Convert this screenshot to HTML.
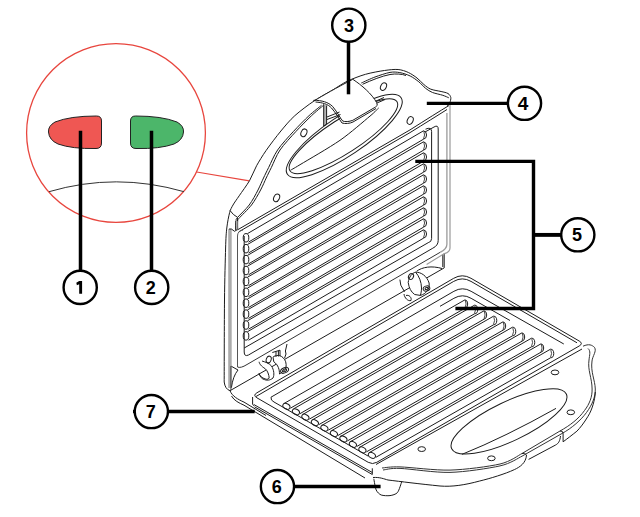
<!DOCTYPE html>
<html><head><meta charset="utf-8"><style>
html,body{margin:0;padding:0;background:#fff;}
svg{display:block;}
</style></head><body>
<svg width="640" height="517" viewBox="0 0 640 517">
<circle cx="116" cy="133" r="89.4" stroke="#e8463e" stroke-width="1.3" fill="none"/>
<line x1="196.6" y1="172" x2="249.4" y2="180.8" stroke="#e8463e" stroke-width="1.2"/>
<path d="M49,191.7 Q116,172 184,191.7" stroke="#333" stroke-width="1" fill="none" />
<path d="M101.5,121 Q101.5,116 96.5,116 Q70,116 55,122 Q48,126 48.5,132 Q49,140 58,144 Q72,149 96,148.5 Q101.5,148.5 101.5,143 Z" stroke="#222" stroke-width="1" fill="#ef5753" />
<path d="M130.5,121 Q130.5,116 135.5,116 Q162,116 177,122 Q184,126 183.5,132 Q183,140 174,144 Q160,149 136,148.5 Q130.5,148.5 130.5,143 Z" stroke="#222" stroke-width="1" fill="#4cb66a" />
<path d="M224.2,382 C224.2,369.7 224.3,320.1 224.5,300 C224.7,279.9 225.3,258.8 225.6,248 C225.9,237.2 226.2,233.3 226.8,228 C227.4,222.7 228.7,216.1 229.6,212.7 C230.5,209.2 231.6,207.5 233,205 C234.4,202.5 236.7,199.5 239.2,195.8 C241.7,192.1 247,185 249.6,180.5 C252.2,176 254.1,170.2 256.6,165.7 C259.1,161.2 262.5,155.7 266.1,150.5 C269.7,145.3 276.6,136.2 280.9,131 C285.2,125.8 289.8,120.2 294.8,115.7 C299.8,111.2 308.2,104.9 314,101 C319.8,97.1 328.2,92.7 333.2,89.7 C338.2,86.7 342.3,83.6 347.1,81.3 C351.9,79 359.9,75.9 365.5,74.3 C371.1,72.7 379.5,71.2 384.4,70.5 C389.3,69.8 394.5,69.2 398.1,69.5 C401.7,69.8 405.6,71.2 408.4,72.5 C411.2,73.8 414.7,76.2 417,78 C419.3,79.8 421.8,82.8 423.9,84.5 C426,86.2 428.2,88.2 430.8,89.2 C433.4,90.2 438.5,90.9 441.1,91.5 C443.7,92.1 446.5,92.6 448,93.5 C449.5,94.4 450.5,96.1 450.8,97.5 C451.1,98.9 450.3,101.7 449.7,103 C449.1,104.3 447.4,105.5 447,106" stroke="#1c1c1c" stroke-width="1.0" fill="none" />
<path d="M235.7,229.8 C235.8,228.4 235.8,222.4 236.1,220.5 C236.4,218.6 235.6,219.7 237.6,217.4 C239.6,215.1 246.1,209.1 249.2,205 C252.3,200.9 255.9,194.1 258,190 C260.1,185.9 261.9,181.4 263.5,178 C265.1,174.6 266.6,171.6 268.7,167.4 C270.8,163.2 273.9,155.4 277.6,150 C281.3,144.6 288.8,136.5 293.5,131.4 C298.2,126.3 304.8,119.6 309,115.7 C313.2,111.8 319.6,106.9 321.5,105.3" stroke="#1c1c1c" stroke-width="1.0" fill="none" />
<path d="M237.6,229 C237.6,227.8 237.4,222.6 237.6,221 C237.8,219.4 236.7,220.9 238.8,218.5 C240.9,216.1 248.2,209.3 251.5,205 C254.8,200.7 258.4,194.1 260.6,190 C262.8,185.9 264.6,181.4 266.2,178 C267.8,174.6 269.3,171.6 271.4,167.4 C273.5,163.2 276.3,155.4 280,150 C283.7,144.6 291.3,136.5 296,131.4 C300.7,126.3 307.4,119.6 311.5,115.7 C315.6,111.8 321.7,106.9 323.5,105.3" stroke="#1c1c1c" stroke-width="1.0" fill="none" />
<path d="M361.3,83 C363.4,82.1 370.7,78.6 375,77 C379.3,75.4 386.3,73.1 390,72.4 C393.7,71.7 396.8,72.1 399.8,72.6 C402.8,73.1 407.3,74.6 410.2,76 C413.1,77.4 416.5,80 418.8,81.8 C421.1,83.6 423.5,86.7 425.6,88.3 C427.7,89.9 429.9,91.5 432.5,92.5 C435.1,93.5 440.4,94.5 442.8,95.3 C445.2,96.1 447.9,97.4 448.8,97.8" stroke="#1c1c1c" stroke-width="1.0" fill="none" />
<path d="M229.9,210.4 Q233,215 237.6,217.4" stroke="#1c1c1c" stroke-width="1.0" fill="none" />
<path d="M229.95,229 V388" stroke="#ababab" stroke-width="3.5" fill="none" />
<path d="M229.1,229 L231.4,229 L234.5,231.3 L237.6,229.5" stroke="#1c1c1c" stroke-width="1.0" fill="none" />
<path d="M235.9,221 V230 M237.6,218 V229" stroke="#1c1c1c" stroke-width="1.0" fill="none" />
<path d="M236.8,221 V229" stroke="#aaa" stroke-width="1.6" fill="none" />
<path d="M231.4,366.3 L238,370 Q233,376 231.4,387.6" stroke="#1c1c1c" stroke-width="1.0" fill="none" />
<path d="M230.9,366 V390" stroke="#444" stroke-width="1.0" fill="none" />
<path d="M224.2,382 Q225,389 230,390.7" stroke="#1c1c1c" stroke-width="1.0" fill="none" />
<path d="M230,390.7 L444.2,267.9" stroke="#1c1c1c" stroke-width="1.0" fill="none" />
<path d="M444.2,253.6 V267.9 M442.8,254.5 V267" stroke="#1c1c1c" stroke-width="1.0" fill="none" />
<path d="M237.6,229.8 L410,129.9 Q435,114 449,105.5" stroke="#1c1c1c" stroke-width="1.0" fill="none" />
<path d="M238.8,231.8 L410,132.6 Q432,119 447,109.5" stroke="#1c1c1c" stroke-width="1.0" fill="none" />
<path d="M237.5,367 V236 Q237.5,231 243,230" stroke="#555" stroke-width="1.0" fill="none" />
<path d="M440.5,252.1 L247,364.5 Q240.7,368.5 237.5,367" stroke="#333" stroke-width="1.0" fill="none" />
<path d="M446.9,113 V244.3 Q446.9,249 440.5,252.1" stroke="#9a9a9a" stroke-width="1.3" fill="none" />
<path d="M450,104 V248 Q450,252 444.4,253.6 L426.6,264.5" stroke="#9a9a9a" stroke-width="1.2" fill="none" />
<path d="M425,132 L434,127 Q438.2,124.5 438.2,129 V240.5 Q438.2,245.5 432.8,248.2 L248.5,355 Q244.2,357 244.2,352 V236" stroke="#1c1c1c" stroke-width="1.0" fill="none" />
<path d="M425.5,129.2 Q431.6,126.5 431.6,131.5 V238.5 Q431.6,242 428.2,242.7 L244.2,348" stroke="#1c1c1c" stroke-width="1.0" fill="none" />
<ellipse cx="344.25" cy="136.05" rx="68.5" ry="19.75" transform="rotate(-33.9 344.25 136.05)" stroke="#1c1c1c" stroke-width="1.0" fill="none"/>
<ellipse cx="343.4" cy="136.2" rx="63.7" ry="16.9" transform="rotate(-32.9 343.4 136.2)" stroke="#1c1c1c" stroke-width="1.0" fill="none"/>
<path d="M290.5,170.2 C291.9,169.4 292.6,169.2 300,164.7 C307.4,160.2 329.5,147.6 340,140.3 C350.5,133 364.2,120.9 370,116.1 C375.8,111.3 377.2,109.2 378.5,108" stroke="#1c1c1c" stroke-width="1.0" fill="none" />
<path d="M313.8,101 C323,95.5 336,88 352.8,79.3 C361.6,85.1 372,94 376.7,102.7 L377.3,105.3 L375.4,107.1 L352.8,120.3 C349,121.8 345,122 342.7,121 C340,118 338,113 332.7,106.5 C328,102 322,100.5 313.8,100.2 Z" stroke="#1c1c1c" stroke-width="1.0" fill="#fff" />
<path d="M315.5,102 C322,102.5 328,104 331.5,108 C336,113 339,119 342,123 C345,124 350,123.5 353,122 L376,108.5" stroke="#1c1c1c" stroke-width="1.0" fill="none" />
<path d="M323.7,104.2 V126 L326.6,124 V105.5" stroke="#1c1c1c" stroke-width="1.0" fill="#b5b5b5" />
<path d="M327,117 L339.5,112 M327,119.5 L340.5,114.5" stroke="#1c1c1c" stroke-width="1.0" fill="none" />
<path d="M362.5,84.3 C372,80 382,76 390,74.5 C396,73.5 402,74 406,75.5" stroke="#1c1c1c" stroke-width="1.0" fill="none" />
<path d="M376,101 L384,97.5 M377,103 L385,99.5" stroke="#1c1c1c" stroke-width="1.0" fill="none" />
<ellipse cx="383.5" cy="86.6" rx="2.8" ry="4" transform="rotate(25 383.5 86.6)" stroke="#1c1c1c" stroke-width="1.0" fill="none"/>
<ellipse cx="410.2" cy="120.5" rx="2.8" ry="4" transform="rotate(25 410.2 120.5)" stroke="#1c1c1c" stroke-width="1.0" fill="none"/>
<ellipse cx="276.6" cy="197.9" rx="2.8" ry="4" transform="rotate(25 276.6 197.9)" stroke="#1c1c1c" stroke-width="1.0" fill="none"/>
<ellipse cx="303.9" cy="132.8" rx="2.8" ry="4" transform="rotate(25 303.9 132.8)" stroke="#1c1c1c" stroke-width="1.0" fill="none"/>
<path d="M247.5,233.6 L423.5,130.8 A3.6,4.25 0 0 1 423.5,139.2 L248.5,242.1" stroke="#1c1c1c" stroke-width="1.0" fill="none" />
<path d="M423.8,131.2 Q425.5,135 423.5,138.9" stroke="#1c1c1c" stroke-width="0.8" fill="none" />
<ellipse cx="246" cy="237.8" rx="2.8" ry="4.25" transform="rotate(0 246 237.8)" stroke="#1c1c1c" stroke-width="1.0" fill="none"/>
<path d="M247.5,244.5 L423.5,141.8 A3.6,4.25 0 0 1 423.5,150.2 L248.5,253" stroke="#1c1c1c" stroke-width="1.0" fill="none" />
<path d="M423.8,142.2 Q425.5,146 423.5,149.9" stroke="#1c1c1c" stroke-width="0.8" fill="none" />
<ellipse cx="246" cy="248.70000000000002" rx="2.8" ry="4.25" transform="rotate(0 246 248.70000000000002)" stroke="#1c1c1c" stroke-width="1.0" fill="none"/>
<path d="M247.5,255.4 L423.5,152.8 A3.6,4.25 0 0 1 423.5,161.2 L248.5,263.9" stroke="#1c1c1c" stroke-width="1.0" fill="none" />
<path d="M423.8,153.2 Q425.5,157 423.5,160.9" stroke="#1c1c1c" stroke-width="0.8" fill="none" />
<ellipse cx="246" cy="259.6" rx="2.8" ry="4.25" transform="rotate(0 246 259.6)" stroke="#1c1c1c" stroke-width="1.0" fill="none"/>
<path d="M247.5,266.2 L423.5,163.8 A3.6,4.25 0 0 1 423.5,172.2 L248.5,274.8" stroke="#1c1c1c" stroke-width="1.0" fill="none" />
<path d="M423.8,164.2 Q425.5,168 423.5,171.9" stroke="#1c1c1c" stroke-width="0.8" fill="none" />
<ellipse cx="246" cy="270.5" rx="2.8" ry="4.25" transform="rotate(0 246 270.5)" stroke="#1c1c1c" stroke-width="1.0" fill="none"/>
<path d="M247.5,277.2 L423.5,174.8 A3.6,4.25 0 0 1 423.5,183.2 L248.5,285.7" stroke="#1c1c1c" stroke-width="1.0" fill="none" />
<path d="M423.8,175.2 Q425.5,179 423.5,182.9" stroke="#1c1c1c" stroke-width="0.8" fill="none" />
<ellipse cx="246" cy="281.40000000000003" rx="2.8" ry="4.25" transform="rotate(0 246 281.40000000000003)" stroke="#1c1c1c" stroke-width="1.0" fill="none"/>
<path d="M247.5,288.1 L423.5,185.8 A3.6,4.25 0 0 1 423.5,194.2 L248.5,296.6" stroke="#1c1c1c" stroke-width="1.0" fill="none" />
<path d="M423.8,186.2 Q425.5,190 423.5,193.9" stroke="#1c1c1c" stroke-width="0.8" fill="none" />
<ellipse cx="246" cy="292.3" rx="2.8" ry="4.25" transform="rotate(0 246 292.3)" stroke="#1c1c1c" stroke-width="1.0" fill="none"/>
<path d="M247.5,299 L423.5,196.8 A3.6,4.25 0 0 1 423.5,205.2 L248.5,307.5" stroke="#1c1c1c" stroke-width="1.0" fill="none" />
<path d="M423.8,197.2 Q425.5,201 423.5,204.9" stroke="#1c1c1c" stroke-width="0.8" fill="none" />
<ellipse cx="246" cy="303.20000000000005" rx="2.8" ry="4.25" transform="rotate(0 246 303.20000000000005)" stroke="#1c1c1c" stroke-width="1.0" fill="none"/>
<path d="M247.5,309.9 L423.5,207.8 A3.6,4.25 0 0 1 423.5,216.2 L248.5,318.4" stroke="#1c1c1c" stroke-width="1.0" fill="none" />
<path d="M423.8,208.2 Q425.5,212 423.5,215.9" stroke="#1c1c1c" stroke-width="0.8" fill="none" />
<ellipse cx="246" cy="314.1" rx="2.8" ry="4.25" transform="rotate(0 246 314.1)" stroke="#1c1c1c" stroke-width="1.0" fill="none"/>
<path d="M247.5,320.8 L423.5,218.8 A3.6,4.25 0 0 1 423.5,227.2 L248.5,329.2" stroke="#1c1c1c" stroke-width="1.0" fill="none" />
<path d="M423.8,219.2 Q425.5,223 423.5,226.9" stroke="#1c1c1c" stroke-width="0.8" fill="none" />
<ellipse cx="246" cy="325.0" rx="2.8" ry="4.25" transform="rotate(0 246 325.0)" stroke="#1c1c1c" stroke-width="1.0" fill="none"/>
<path d="M247.5,331.7 L423.5,229.8 A3.6,4.25 0 0 1 423.5,238.2 L248.5,340.2" stroke="#1c1c1c" stroke-width="1.0" fill="none" />
<path d="M423.8,230.2 Q425.5,234 423.5,237.9" stroke="#1c1c1c" stroke-width="0.8" fill="none" />
<ellipse cx="246" cy="335.90000000000003" rx="2.8" ry="4.25" transform="rotate(0 246 335.90000000000003)" stroke="#1c1c1c" stroke-width="1.0" fill="none"/>
<path d="M273,357.2 C275,355 281,354 284.6,359.5 C286.5,362 286.5,367 285.4,369.5 L279.5,374 C279.5,370 278.5,365 273.8,361.8 Z" stroke="#1c1c1c" stroke-width="1.0" fill="#fff" />
<path d="M259.1,361.8 C259.5,364 261,366 265.3,368.8 C267.5,370.5 269,375 269.2,378 C268,380 266,379.5 263,378 C261,377 259.5,375 259.1,373.4 C260,377 262,379 264.5,379.6 C266.5,380.5 270,380.6 273,378 C274.5,375 274,370 271.5,366 C269,363 265,362 262,361" stroke="#1c1c1c" stroke-width="1.0" fill="#fff" />
<ellipse cx="268.7" cy="359.5" rx="2.4" ry="3.4" transform="rotate(20 268.7 359.5)" stroke="#1c1c1c" stroke-width="1.0" fill="none"/>
<ellipse cx="284.6" cy="370.3" rx="4.2" ry="2.6" transform="rotate(-25 284.6 370.3)" stroke="#1c1c1c" stroke-width="1.0" fill="none"/>
<ellipse cx="284.6" cy="370.3" rx="2.2" ry="1.3" transform="rotate(-25 284.6 370.3)" stroke="#1c1c1c" stroke-width="1.0" fill="none"/>
<path d="M272.3,352.5 L280,350.2 V356 M278.4,350.8 V356.5 M276,351.5 V357" stroke="#1c1c1c" stroke-width="1.0" fill="none" />
<path d="M287,344 L285.4,351 L286,354 L284.6,358" stroke="#1c1c1c" stroke-width="1.0" fill="none" />
<path d="M408.2,282.4 C409,277 412,273 415.6,272.2 C421,272 427,276 429.1,283 C430,289 426,294 420.3,295.4 L414.7,294.5 C411,292 409,288 408.2,282.4 Z" stroke="#1c1c1c" stroke-width="1.0" fill="#fff" />
<path d="M415.6,272.2 C419,276 421.5,282 421.5,288 C421.5,291 421,293.5 420.3,295.4" stroke="#1c1c1c" stroke-width="1.0" fill="none" />
<path d="M416.6,271.3 C422,267 432,265.5 442,268.5" stroke="#1c1c1c" stroke-width="1.0" fill="none" />
<ellipse cx="411" cy="276.5" rx="2.4" ry="3" transform="rotate(30 411 276.5)" stroke="#1c1c1c" stroke-width="1.0" fill="none"/>
<ellipse cx="426.5" cy="288.5" rx="3.4" ry="2.5" transform="rotate(-20 426.5 288.5)" stroke="#1c1c1c" stroke-width="1.0" fill="none"/>
<ellipse cx="426.5" cy="288.5" rx="1.5" ry="1.1" transform="rotate(-20 426.5 288.5)" stroke="#1c1c1c" stroke-width="1.0" fill="none"/>
<path d="M404,294 C404.5,298 408,301.5 411,300.5 C412,297.5 409,294.5 406,295.5" stroke="#1c1c1c" stroke-width="1.0" fill="none" />
<path d="M399.9,279.6 L400.8,285.2 L404.5,291.7" stroke="#1c1c1c" stroke-width="1.0" fill="none" />
<path d="M230,390.7 C232,396 238,399.5 244,402.1 L266,415.5" stroke="#1c1c1c" stroke-width="1.0" fill="none" />
<path d="M231.5,396 C234,400.5 239,403 244,405.2 L365,478" stroke="#1c1c1c" stroke-width="1.0" fill="none" />
<path d="M453.7,278.3 Q462.3,273.3 471,278.3 L579.2,341 Q583.5,343.5 579.2,346 L376.8,462.3 Q372.5,464.8 368.2,462.3 L256.9,397.8 Q252.6,395.3 256.9,392.8 Z" stroke="#1c1c1c" stroke-width="1.0" fill="none" />
<path d="M256,396.5 L453.7,281.4 Q462.3,276.4 471,281.4 L577,342.8" stroke="#1c1c1c" stroke-width="1.0" fill="none" />
<path d="M376,464.5 L582,349" stroke="#1c1c1c" stroke-width="1.0" fill="none" />
<path d="M252.6,397 V404.2 Q252.8,405 254,405.6" stroke="#1c1c1c" stroke-width="1.0" fill="none" />
<path d="M254,404.6 L372.3,472.5 M254.5,406.8 L372.3,474.5 M372.3,468.3 V474.5" stroke="#1c1c1c" stroke-width="1.0" fill="none" />
<path d="M271,397.2 Q270.5,400.5 274,402 L368,456" stroke="#1c1c1c" stroke-width="1.0" fill="none" />
<path d="M271,397.2 L453.9,291.3 Q462.5,286.3 471.1,291.3 L563.8,344" stroke="#1c1c1c" stroke-width="1.0" fill="none" />
<path d="M440,306.3 L453.9,298.3 Q462.5,293.3 471.1,298.3 L510,320.5" stroke="#1c1c1c" stroke-width="1.0" fill="none" />
<path d="M382,468 C384.7,467.8 389.8,466.6 400,466.9 C410.2,467.2 435,470.5 450,470.1 C465,469.7 489.2,466.5 500,464 C510.8,461.5 518.7,455.1 522,453.5 L560,431 C570,425.5 579,418.5 584.5,410.5 C589.5,404 592.3,397 592.1,389 C592,378 587.5,370 589,360 C589.5,355 591,351 588,348.5" stroke="#333" stroke-width="1.0" fill="none" />
<path d="M383,470 C385.6,469.8 389.9,468 400,468.4 C410.1,468.8 435,472.8 450,472.4 C465,472 489.2,468.3 500,465.9 C510.8,463.5 518.7,457.7 522,456.2 L562,433.5 C572,428 581,420 586.5,412.5 C592,405 595.5,397 595.3,389 C595,380 590.5,372 592,361 C592.5,356 597,351 594.5,347.4 C592,345 589,343.5 583,346.2" stroke="#333" stroke-width="1.0" fill="none" />
<path d="M373,477.5 C380,477 384,479 388,480 C400,481.5 420,484 440,486 C452,487 465,485 479.7,481 C490,478.5 505,474 514.4,469.6 C520,467 526,463 526.5,455" stroke="#1c1c1c" stroke-width="1.0" fill="none" />
<path d="M528.6,459.4 L555.6,445 C558.5,443.5 560,441 560.5,436" stroke="#1c1c1c" stroke-width="1.0" fill="none" />
<path d="M563.1,441.8 C567,439 572,435 576.9,431.2 C580,428 584,423 588,416.3 C592,410 595,400 595.3,392" stroke="#1c1c1c" stroke-width="1.0" fill="none" />
<path d="M522,453.5 Q525,452.5 526.5,455 M560,431 Q563,430.5 563.1,433.5 V441.8" stroke="#1c1c1c" stroke-width="1.0" fill="none" />
<ellipse cx="509" cy="421.4" rx="63.5" ry="19.6" transform="rotate(-25.5 509 421.4)" stroke="#1c1c1c" stroke-width="1.0" fill="none"/>
<path d="M461.9,454.4 Q505,437 556,408.4" stroke="#1c1c1c" stroke-width="1.0" fill="none" />
<ellipse cx="555" cy="372.4" rx="3.8" ry="2.4" transform="rotate(0 555 372.4)" stroke="#1c1c1c" stroke-width="1.0" fill="none"/>
<ellipse cx="570.8" cy="412.3" rx="3.8" ry="2.4" transform="rotate(0 570.8 412.3)" stroke="#1c1c1c" stroke-width="1.0" fill="none"/>
<ellipse cx="491.4" cy="458.3" rx="3.8" ry="2.4" transform="rotate(0 491.4 458.3)" stroke="#1c1c1c" stroke-width="1.0" fill="none"/>
<ellipse cx="421.7" cy="449.1" rx="3.8" ry="2.4" transform="rotate(0 421.7 449.1)" stroke="#1c1c1c" stroke-width="1.0" fill="none"/>
<path d="M373.8,478.8 C374.1,480.2 375.2,487.8 376.2,490 C377.2,492.2 379.4,494.3 381.2,495 C383.1,495.7 387.8,495.9 390,495.6 C392.2,495.3 395.9,494.4 397.5,492.5 C399.1,490.6 401.3,482.8 401.9,481.2" stroke="#1c1c1c" stroke-width="1.0" fill="none" />
<path d="M284.2,403.4 L465,299.8 A3.2,4.25 0 0 1 465,308.2 L290.4,408.2" stroke="#1c1c1c" stroke-width="1.0" fill="none" />
<path d="M465.3,300.2 Q467,304 465,307.9" stroke="#1c1c1c" stroke-width="0.8" fill="none" />
<ellipse cx="286.4" cy="406.3" rx="3.8" ry="2.6" transform="rotate(30 286.4 406.3)" stroke="#1c1c1c" stroke-width="1.0" fill="none"/>
<path d="M293.7,408.8 L474.5,305.2 A3.2,4.25 0 0 1 474.5,313.8 L299.9,413.7" stroke="#1c1c1c" stroke-width="1.0" fill="none" />
<path d="M474.8,305.8 Q476.5,309.5 474.5,313.4" stroke="#1c1c1c" stroke-width="0.8" fill="none" />
<ellipse cx="295.9" cy="411.8" rx="3.8" ry="2.6" transform="rotate(30 295.9 411.8)" stroke="#1c1c1c" stroke-width="1.0" fill="none"/>
<path d="M303.2,414.2 L484,310.8 A3.2,4.25 0 0 1 484,319.2 L309.4,419.1" stroke="#1c1c1c" stroke-width="1.0" fill="none" />
<path d="M484.3,311.2 Q486,315 484,318.9" stroke="#1c1c1c" stroke-width="0.8" fill="none" />
<ellipse cx="305.4" cy="417.2" rx="3.8" ry="2.6" transform="rotate(30 305.4 417.2)" stroke="#1c1c1c" stroke-width="1.0" fill="none"/>
<path d="M312.7,419.7 L493.5,316.2 A3.2,4.25 0 0 1 493.5,324.8 L318.9,424.6" stroke="#1c1c1c" stroke-width="1.0" fill="none" />
<path d="M493.8,316.8 Q495.5,320.5 493.5,324.4" stroke="#1c1c1c" stroke-width="0.8" fill="none" />
<ellipse cx="314.9" cy="422.7" rx="3.8" ry="2.6" transform="rotate(30 314.9 422.7)" stroke="#1c1c1c" stroke-width="1.0" fill="none"/>
<path d="M322.2,425.2 L503,321.8 A3.2,4.25 0 0 1 503,330.2 L328.4,430.1" stroke="#1c1c1c" stroke-width="1.0" fill="none" />
<path d="M503.3,322.2 Q505,326 503,329.9" stroke="#1c1c1c" stroke-width="0.8" fill="none" />
<ellipse cx="324.4" cy="428.1" rx="3.8" ry="2.6" transform="rotate(30 324.4 428.1)" stroke="#1c1c1c" stroke-width="1.0" fill="none"/>
<path d="M331.7,430.6 L512.5,327.2 A3.2,4.25 0 0 1 512.5,335.8 L337.9,435.5" stroke="#1c1c1c" stroke-width="1.0" fill="none" />
<path d="M512.8,327.8 Q514.5,331.5 512.5,335.4" stroke="#1c1c1c" stroke-width="0.8" fill="none" />
<ellipse cx="333.9" cy="433.6" rx="3.8" ry="2.6" transform="rotate(30 333.9 433.6)" stroke="#1c1c1c" stroke-width="1.0" fill="none"/>
<path d="M341.2,436.1 L522,332.8 A3.2,4.25 0 0 1 522,341.2 L347.4,440.9" stroke="#1c1c1c" stroke-width="1.0" fill="none" />
<path d="M522.3,333.2 Q524,337 522,340.9" stroke="#1c1c1c" stroke-width="0.8" fill="none" />
<ellipse cx="343.4" cy="439" rx="3.8" ry="2.6" transform="rotate(30 343.4 439)" stroke="#1c1c1c" stroke-width="1.0" fill="none"/>
<path d="M350.7,441.5 L531.5,338.2 A3.2,4.25 0 0 1 531.5,346.8 L356.9,446.4" stroke="#1c1c1c" stroke-width="1.0" fill="none" />
<path d="M531.8,338.8 Q533.5,342.5 531.5,346.4" stroke="#1c1c1c" stroke-width="0.8" fill="none" />
<ellipse cx="352.9" cy="444.4" rx="3.8" ry="2.6" transform="rotate(30 352.9 444.4)" stroke="#1c1c1c" stroke-width="1.0" fill="none"/>
<path d="M360.2,447 L541,343.8 A3.2,4.25 0 0 1 541,352.2 L366.4,451.9" stroke="#1c1c1c" stroke-width="1.0" fill="none" />
<path d="M541.3,344.2 Q543,348 541,351.9" stroke="#1c1c1c" stroke-width="0.8" fill="none" />
<ellipse cx="362.4" cy="449.9" rx="3.8" ry="2.6" transform="rotate(30 362.4 449.9)" stroke="#1c1c1c" stroke-width="1.0" fill="none"/>
<path d="M369.7,452.4 L550.5,349.2 A3.2,4.25 0 0 1 550.5,357.8 L375.9,457.3" stroke="#1c1c1c" stroke-width="1.0" fill="none" />
<path d="M550.8,349.8 Q552.5,353.5 550.5,357.4" stroke="#1c1c1c" stroke-width="0.8" fill="none" />
<ellipse cx="371.9" cy="455.4" rx="3.8" ry="2.6" transform="rotate(30 371.9 455.4)" stroke="#1c1c1c" stroke-width="1.0" fill="none"/>
<line x1="80.5" y1="130.7" x2="80.5" y2="271" stroke="#000" stroke-width="3.5"/>
<line x1="151.5" y1="130.7" x2="151.5" y2="271" stroke="#000" stroke-width="3.5"/>
<line x1="348.5" y1="94.3" x2="348.5" y2="42" stroke="#000" stroke-width="3.5"/>
<line x1="426.8" y1="103.4" x2="508" y2="103.4" stroke="#000" stroke-width="3.4"/>
<path d="M415.3,161.4 H533.5 V308.45 H455.4" stroke="#000" stroke-width="3.4" fill="none" />
<line x1="533.5" y1="234.9" x2="561" y2="234.9" stroke="#000" stroke-width="3.9"/>
<line x1="254.7" y1="411.45" x2="133" y2="411.45" stroke="#000" stroke-width="3.5"/>
<line x1="380.6" y1="486.45" x2="294" y2="486.45" stroke="#000" stroke-width="3.5"/>
<circle cx="80.2" cy="287.4" r="16.6" stroke="#000" stroke-width="2.4" fill="#fff"/>
<path d="M76.3,282.79999999999995 L79.2,281.0 H82.10000000000001 V293.79999999999995 H79.2 V284.2 L76.9,285.2 Z" fill="#000"/>
<circle cx="151.7" cy="287.4" r="16.6" stroke="#000" stroke-width="2.4" fill="#fff"/>
<text x="150.85" y="293.9" text-anchor="middle" font-family="Liberation Sans" font-weight="bold" font-size="18" fill="#000">2</text>
<circle cx="348.8" cy="25.2" r="16.6" stroke="#000" stroke-width="2.4" fill="#fff"/>
<text x="349.0" y="31.7" text-anchor="middle" font-family="Liberation Sans" font-weight="bold" font-size="18" fill="#000">3</text>
<circle cx="524.5" cy="103.3" r="16.6" stroke="#000" stroke-width="2.4" fill="#fff"/>
<text transform="translate(523.15,109.8) scale(1.06,1)" x="0" y="0" text-anchor="middle" font-family="Liberation Sans" font-weight="bold" font-size="18" fill="#000">4</text>
<circle cx="577.8" cy="234.8" r="16.6" stroke="#000" stroke-width="2.4" fill="#fff"/>
<text x="576.9" y="241.3" text-anchor="middle" font-family="Liberation Sans" font-weight="bold" font-size="18" fill="#000">5</text>
<circle cx="277.45" cy="486.55" r="16.6" stroke="#000" stroke-width="2.4" fill="#fff"/>
<text x="276.7" y="493.05" text-anchor="middle" font-family="Liberation Sans" font-weight="bold" font-size="18" fill="#000">6</text>
<circle cx="151.35" cy="411.55" r="16.6" stroke="#000" stroke-width="2.4" fill="#fff"/>
<text x="150.75" y="418.05" text-anchor="middle" font-family="Liberation Sans" font-weight="bold" font-size="18" fill="#000">7</text>
</svg>
</body></html>
